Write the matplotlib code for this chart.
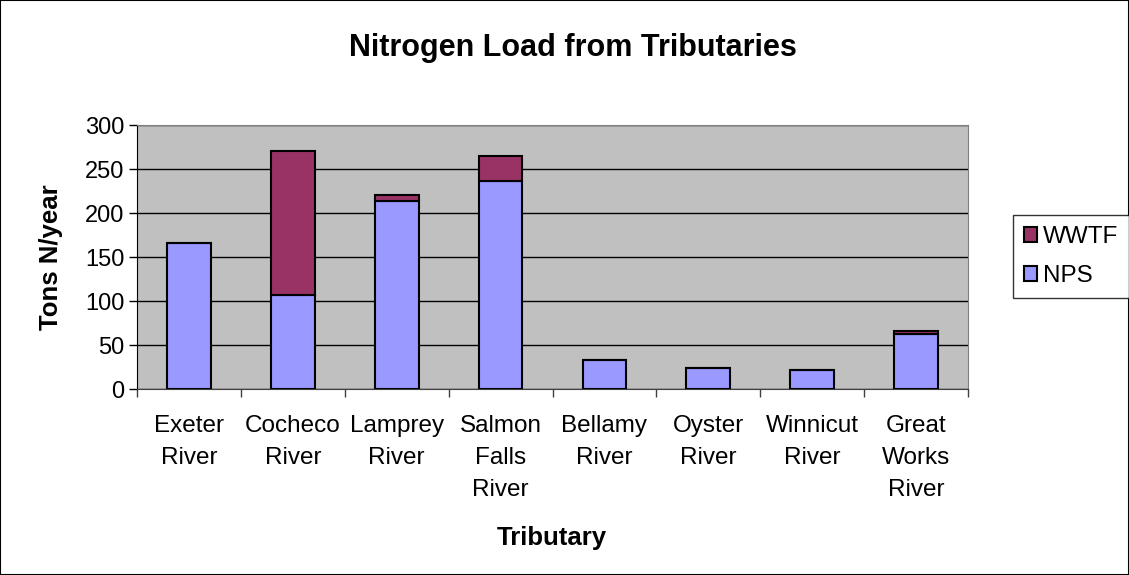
import matplotlib
matplotlib.use('Agg')
import matplotlib.pyplot as plt
import numpy as np
from matplotlib.patches import Rectangle

plt.rcParams['font.family'] = ['Liberation Sans', 'DejaVu Sans']

tributaries = ['Exeter\nRiver', 'Cocheco\nRiver', 'Lamprey\nRiver', 'Salmon\nFalls\nRiver',
               'Bellamy\nRiver', 'Oyster\nRiver', 'Winnicut\nRiver', 'Great\nWorks\nRiver']
nps = [166, 107, 214, 236, 33, 24, 22, 63]
wwtf = [0, 164, 7, 29, 0, 0, 0, 3]

W, H = 1129, 575
fig = plt.figure(figsize=(W / 100, H / 100), dpi=100)
ax = fig.add_axes([137 / W, 1 - 389 / H, 831 / W, 264 / H])

x = np.arange(len(tributaries))
ax.bar(x, nps, width=0.42, color='#9999FF', edgecolor='black', linewidth=1.5,
       label='NPS', zorder=3)
ax.bar(x, wwtf, width=0.42, bottom=nps, color='#993366', edgecolor='black',
       linewidth=1.5, label='WWTF', zorder=3)

ax.set_facecolor('#C0C0C0')
ax.set_xlim(-0.5, len(tributaries) - 0.5)
ax.set_ylim(0, 300)
ax.set_yticks(range(0, 301, 50))
ax.yaxis.grid(True, color='black', linewidth=1)
ax.set_axisbelow(True)

# ticks between categories, labels centred under bars
ax.set_xticks(np.arange(-0.5, len(tributaries), 1))
ax.set_xticklabels([])
ax.set_xticks(x, minor=True)
ax.set_xticklabels(tributaries, minor=True, fontsize=17.5, linespacing=1.58)
ax.tick_params(axis='x', which='minor', length=0, pad=19)
ax.tick_params(axis='x', which='major', length=6, width=1, color='#404040')
ax.tick_params(axis='y', length=6, width=1, labelsize=17, pad=3)

for side in ['top', 'right']:
    ax.spines[side].set_color('#808080')
ax.spines['left'].set_color('black')
ax.spines['bottom'].set_color('#404040')

ax.set_ylabel('Tons N/year', fontsize=18.5, fontweight='bold')
ax.yaxis.set_label_coords((51 - 137) / 831, 0.5)
ax.set_xlabel('Tributary', fontsize=18.5, fontweight='bold')
ax.xaxis.set_label_coords((552 - 137) / 831, -(538 - 389) / 264)
ax.xaxis.label.set_va('center')
ax.yaxis.label.set_va('center')
fig.text(573 / W, 1 - 48 / H, 'Nitrogen Load from Tributaries', ha='center', va='center',
         fontsize=22, fontweight='bold')

handles, labels = ax.get_legend_handles_labels()
leg = fig.legend(handles[::-1], labels[::-1], loc='upper left',
                 bbox_to_anchor=(1013 / W, 1 - 215 / H), fontsize=17.5,
                 frameon=True, fancybox=False, edgecolor='black', handlelength=0.55,
                 handleheight=0.55, handletextpad=0.25, borderpad=0.45, labelspacing=0.7,
                 borderaxespad=0)
leg.get_frame().set_linewidth(1)

fig.patches.append(Rectangle((0, 0), 1, 1, transform=fig.transFigure, fill=False,
                             edgecolor='black', linewidth=1.5))

fig.savefig('out.png', dpi=100)
